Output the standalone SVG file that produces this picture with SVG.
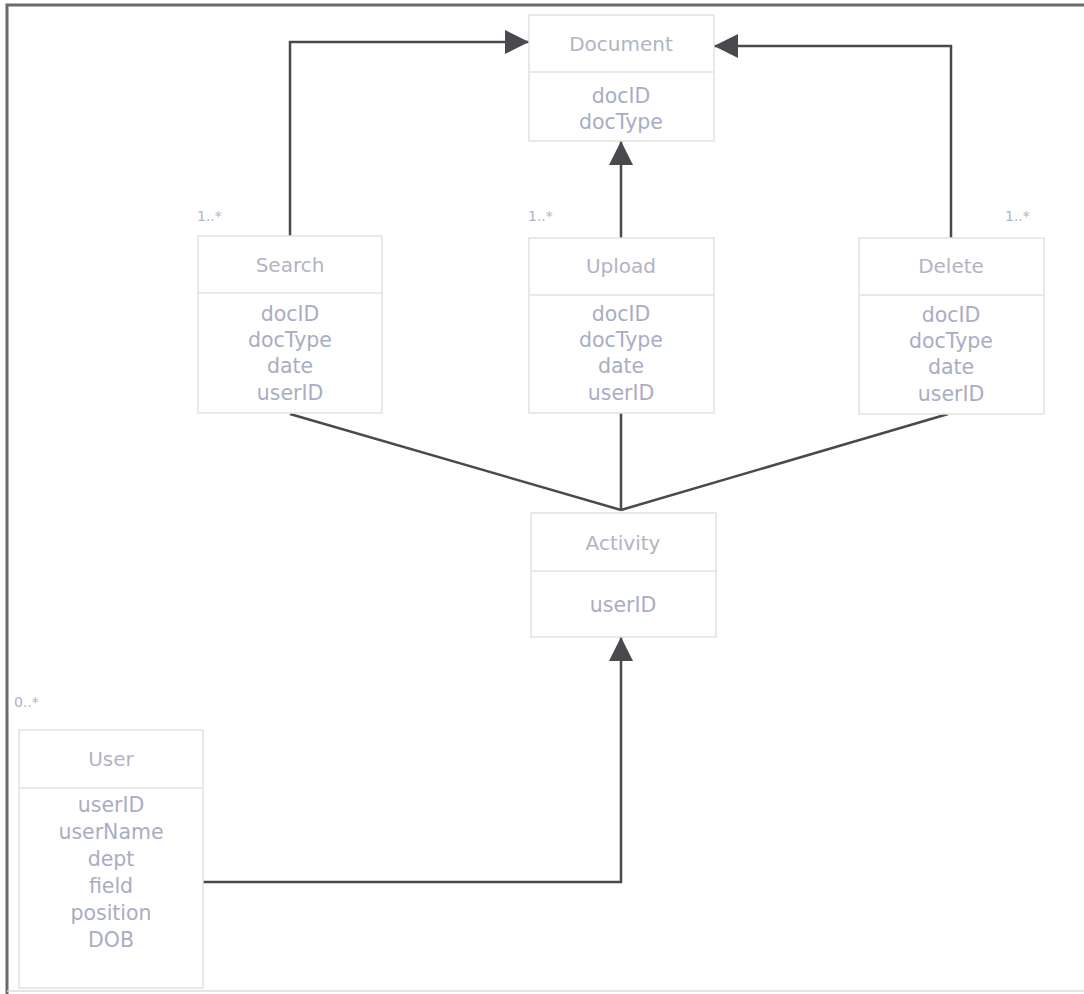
<svg xmlns="http://www.w3.org/2000/svg" width="1084" height="994" viewBox="0 0 1084 994">
<style>
.box{fill:#fff;stroke:#e2e2e2;stroke-width:1.5}
.div{stroke:#e2e2e2;stroke-width:1.5}
text{font-family:"DejaVu Sans",Verdana,sans-serif;font-size:20.5px;fill:#a9adc4;text-anchor:middle}
.t{fill:#b2b4c3;font-size:20px}
.m{font-size:14px;text-anchor:start;fill:#b0b3c6}
.c{fill:none;stroke:#4a4a4e;stroke-width:2.5}
</style>
<defs>
<marker id="a" viewBox="0 0 24 24" refX="24" refY="12" markerWidth="24" markerHeight="24" markerUnits="userSpaceOnUse" orient="auto">
<path d="M0,0 L24,12 L0,24 z" fill="#4a4a4e"/>
</marker>
</defs>
<rect x="0" y="0" width="1084" height="994" fill="#fff"/>
<path d="M7,994 V5 H1084" fill="none" stroke="#6a6a6e" stroke-width="3"/>
<path d="M7,991 H1084" fill="none" stroke="#dcdcdc" stroke-width="1.5"/>
<g id="connectors">
<path class="c" d="M290,236 V42 H529" marker-end="url(#a)"/>
<path class="c" d="M951,238 V46 H714" marker-end="url(#a)"/>
<path class="c" d="M621,238 V141" marker-end="url(#a)"/>
<path class="c" d="M290,414 L621,510"/>
<path class="c" d="M621,413 V510"/>
<path class="c" d="M948,414 L621,510"/>
<path class="c" d="M203,882 H621 V637" marker-end="url(#a)"/>
<text class="m" x="197" y="221">1..*</text>
<text class="m" x="528" y="221">1..*</text>
<text class="m" x="1005" y="221">1..*</text>
<text class="m" x="14" y="707">0..*</text>
</g>
<g id="document">
<rect class="box" x="529" y="15" width="185" height="126"/>
<line class="div" x1="529" y1="72" x2="714" y2="72"/>
<text class="t" x="621" y="51">Document</text>
<text x="621" y="103">docID</text>
<text x="621" y="129">docType</text>
</g>
<g id="search">
<rect class="box" x="198" y="236" width="184" height="177"/>
<line class="div" x1="198" y1="293" x2="382" y2="293"/>
<text class="t" x="290" y="272">Search</text>
<text x="290" y="321">docID</text>
<text x="290" y="347">docType</text>
<text x="290" y="373">date</text>
<text x="290" y="400">userID</text>
</g>
<g id="upload">
<rect class="box" x="529" y="238" width="185" height="175"/>
<line class="div" x1="529" y1="295" x2="714" y2="295"/>
<text class="t" x="621" y="273">Upload</text>
<text x="621" y="321">docID</text>
<text x="621" y="347">docType</text>
<text x="621" y="373">date</text>
<text x="621" y="400">userID</text>
</g>
<g id="delete">
<rect class="box" x="859" y="238" width="185" height="176"/>
<line class="div" x1="859" y1="295" x2="1044" y2="295"/>
<text class="t" x="951" y="273">Delete</text>
<text x="951" y="322">docID</text>
<text x="951" y="348">docType</text>
<text x="951" y="374">date</text>
<text x="951" y="401">userID</text>
</g>
<g id="activity">
<rect class="box" x="531" y="513" width="185" height="124"/>
<line class="div" x1="531" y1="571" x2="716" y2="571"/>
<text class="t" x="623" y="550">Activity</text>
<text x="623" y="612">userID</text>
</g>
<g id="user">
<rect class="box" x="19" y="730" width="184" height="258"/>
<line class="div" x1="19" y1="788" x2="203" y2="788"/>
<text class="t" x="111" y="766">User</text>
<text x="111" y="812">userID</text>
<text x="111" y="839">userName</text>
<text x="111" y="866">dept</text>
<text x="111" y="893">field</text>
<text x="111" y="920">position</text>
<text x="111" y="947">DOB</text>
</g>
</svg>
